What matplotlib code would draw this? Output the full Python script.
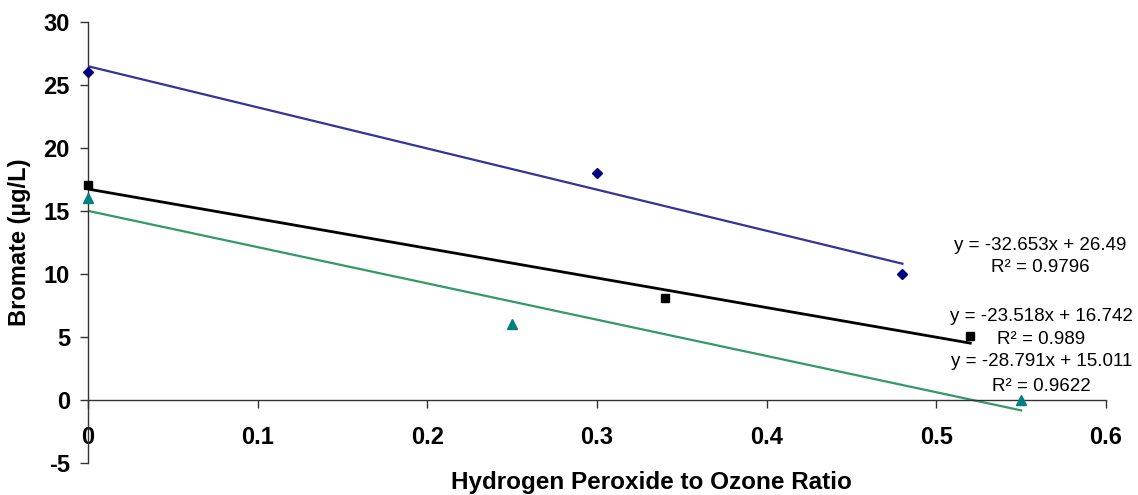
import matplotlib
matplotlib.use("Agg")

import matplotlib.pyplot as plt
import numpy as np

plt.rcParams["font.family"] = ["Liberation Sans", "DejaVu Sans"]
plt.rcParams["axes.unicode_minus"] = False

# series data
blue_x = [0, 0.3, 0.48]
blue_y = [26, 18, 10]
black_x = [0, 0.34, 0.52]
black_y = [17.1, 8.1, 5.1]
teal_x = [0, 0.25, 0.55]
teal_y = [16, 6, 0]

# linear trendlines as printed on the chart
slopes = [-32.653, -23.518, -28.791]
intercepts = [26.49, 16.742, 15.011]
r2_text = ["0.9796", "0.989", "0.9622"]

fig = plt.figure(figsize=(11.38, 4.95), dpi=100)
ax = fig.add_axes([0.0773, 0.0646, 0.8946, 0.891])

series = [
    (blue_x, blue_y, "D", "#000080", "#333399", 1.6, 5.5),
    (black_x, black_y, "s", "#000000", "#000000", 2.0, 5.5),
    (teal_x, teal_y, "^", "#008080", "#339966", 1.6, 6.5),
]
for i, (xs, ys, mk, mc, lc, lw, ms) in enumerate(series):
    tx = np.array([min(xs), max(xs)])
    ax.plot(tx, slopes[i] * tx + intercepts[i], color=lc, lw=lw, zorder=2)
    ax.plot(xs, ys, linestyle="none", marker=mk, color=mc, ms=ms, zorder=3,
            clip_on=False)

# equation labels (eq line y, R² line y)
label_pos = [(0.561, 12.30, 10.48), (0.562, 6.59, 4.84), (0.562, 3.02, 1.11)]
for i, (lx, ey, ry) in enumerate(label_pos):
    ax.text(lx, ey, f"y = {slopes[i]}x + {intercepts[i]}",
            ha="center", va="center", fontsize=13.5)
    ax.text(lx, ry, f"R² = {r2_text[i]}",
            ha="center", va="center", fontsize=13.5)

ax.set_xlim(0, 0.6)
ax.set_ylim(-5, 30)
ax.set_xticks(np.arange(0, 0.61, 0.1))
ax.set_xticklabels(["0", "0.1", "0.2", "0.3", "0.4", "0.5", "0.6"])
ax.set_yticks(range(-5, 31, 5))

ax.spines["top"].set_visible(False)
ax.spines["right"].set_visible(False)
ax.spines["bottom"].set_position(("data", 0))
for s in ("left", "bottom"):
    ax.spines[s].set_color("#333333")
    ax.spines[s].set_linewidth(1.0)

ax.tick_params(axis="y", length=6, width=1, color="#333333", labelsize=17, pad=7)
ax.tick_params(axis="x", length=6, width=1, color="#333333", labelsize=17, pad=13)
for lab in ax.get_xticklabels() + ax.get_yticklabels():
    lab.set_fontweight("bold")

ax.set_xlabel("Hydrogen Peroxide to Ozone Ratio", fontsize=17.5, fontweight="bold")
ax.xaxis.set_label_coords(0.553, -0.018)
ax.set_ylabel("Bromate (µg/L)", fontsize=17, fontweight="bold")
ax.yaxis.set_label_coords(-0.056, 0.5)

fig.savefig("out.png", dpi=100)
